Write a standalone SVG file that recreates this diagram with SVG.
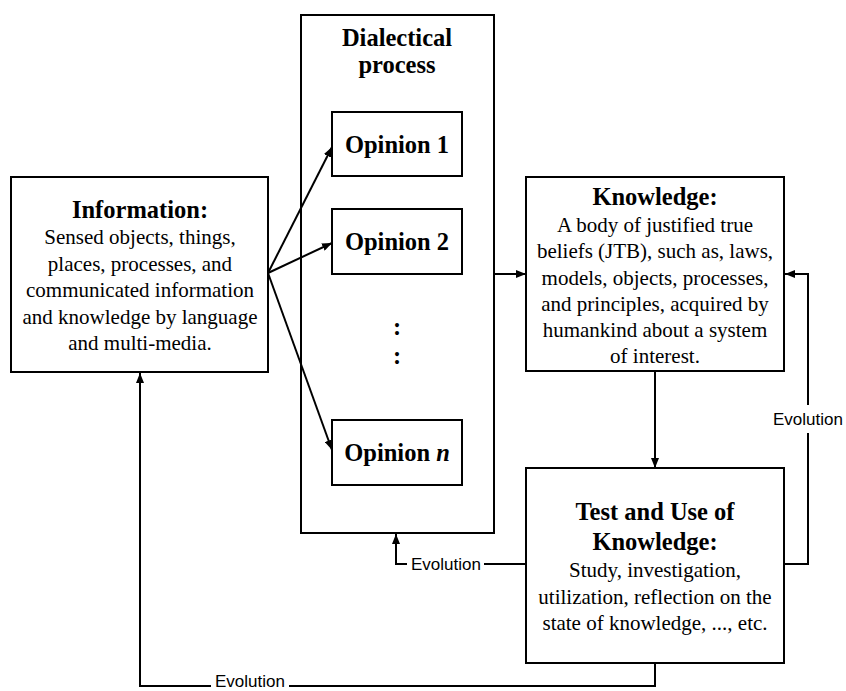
<svg xmlns="http://www.w3.org/2000/svg" width="846" height="691" viewBox="0 0 846 691">
<defs>
<marker id="ah" viewBox="0 0 10 8" refX="10" refY="4" markerWidth="10" markerHeight="8" markerUnits="userSpaceOnUse" orient="auto">
<path d="M0,0 L10,4 L0,8 z" fill="#000"/>
</marker>
<style>
.box{fill:#fff;stroke:#000;stroke-width:2}
.frame{fill:none;stroke:#000;stroke-width:2}
.t{font-family:"Liberation Serif","Times New Roman",serif;font-size:21px;text-anchor:middle;fill:#000}
.b{font-family:"Liberation Serif","Times New Roman",serif;font-size:24.5px;font-weight:bold;text-anchor:middle;fill:#000}
.e{font-family:"Liberation Sans",Arial,sans-serif;font-size:17px;fill:#000}
.c{fill:none;stroke:#000;stroke-width:2}
</style>
</defs>
<rect width="846" height="691" fill="#fff"/>
<g id="information">
<rect class="box" x="11" y="177" width="257" height="195"/>
<text class="b" x="140" y="218">Information:</text>
<text class="t" x="140" y="244">Sensed objects, things,</text>
<text class="t" x="140" y="271">places, processes, and</text>
<text class="t" x="140" y="297">communicated information</text>
<text class="t" x="140" y="324">and knowledge by language</text>
<text class="t" x="140" y="350">and multi-media.</text>
</g>
<g id="dialectical">
<rect class="frame" x="301" y="15" width="193" height="518"/>
<text class="b" x="397" y="46">Dialectical</text>
<text class="b" x="397" y="73">process</text>
<text class="b" x="397" y="335">:</text>
<text class="b" x="397" y="364">:</text>
</g>
<g id="opinion1">
<rect class="box" x="332" y="112" width="130" height="64"/>
<text class="b" x="397" y="153">Opinion 1</text>
</g>
<g id="opinion2">
<rect class="box" x="332" y="209" width="130" height="65"/>
<text class="b" x="397" y="250">Opinion 2</text>
</g>
<g id="opinionn">
<rect class="box" x="332" y="420" width="130" height="65"/>
<text class="b" x="397" y="461">Opinion <tspan font-style="italic">n</tspan></text>
</g>
<g id="knowledge">
<rect class="box" x="526" y="177" width="258" height="194"/>
<text class="b" x="655" y="205">Knowledge:</text>
<text class="t" x="655" y="232">A body of justified true</text>
<text class="t" x="655" y="258">beliefs (JTB), such as, laws,</text>
<text class="t" x="655" y="285">models, objects, processes,</text>
<text class="t" x="655" y="311">and principles, acquired by</text>
<text class="t" x="655" y="337">humankind about a system</text>
<text class="t" x="655" y="363">of interest.</text>
</g>
<g id="test">
<rect class="box" x="526" y="468" width="258" height="195"/>
<text class="b" x="655" y="520">Test and Use of</text>
<text class="b" x="655" y="550">Knowledge:</text>
<text class="t" x="655" y="577">Study, investigation,</text>
<text class="t" x="655" y="604">utilization, reflection on the</text>
<text class="t" x="655" y="630">state of knowledge, ..., etc.</text>
</g>
<g id="connectors">
<line class="c" x1="268" y1="273" x2="332" y2="147" marker-end="url(#ah)"/>
<line class="c" x1="268" y1="273" x2="332" y2="243" marker-end="url(#ah)"/>
<line class="c" x1="268" y1="273" x2="332" y2="450" marker-end="url(#ah)"/>
<line class="c" x1="494" y1="274" x2="526" y2="274" marker-end="url(#ah)"/>
<line class="c" x1="655" y1="372" x2="655" y2="468" marker-end="url(#ah)"/>
<polyline class="c" points="785,564 808,564 808,274 785,274" marker-end="url(#ah)"/>
<rect x="770" y="405" width="76" height="28" fill="#fff"/>
<text class="e" x="808" y="425" text-anchor="middle">Evolution</text>
<polyline class="c" points="525,564 396,564 396,534" marker-end="url(#ah)"/>
<rect x="407" y="552" width="77" height="24" fill="#fff"/>
<text class="e" x="446" y="570" text-anchor="middle">Evolution</text>
<polyline class="c" points="655,664 655,686 140,686 140,373" marker-end="url(#ah)"/>
<rect x="211" y="674" width="78" height="17" fill="#fff"/>
<text class="e" x="250" y="687" text-anchor="middle">Evolution</text>
</g>
</svg>
